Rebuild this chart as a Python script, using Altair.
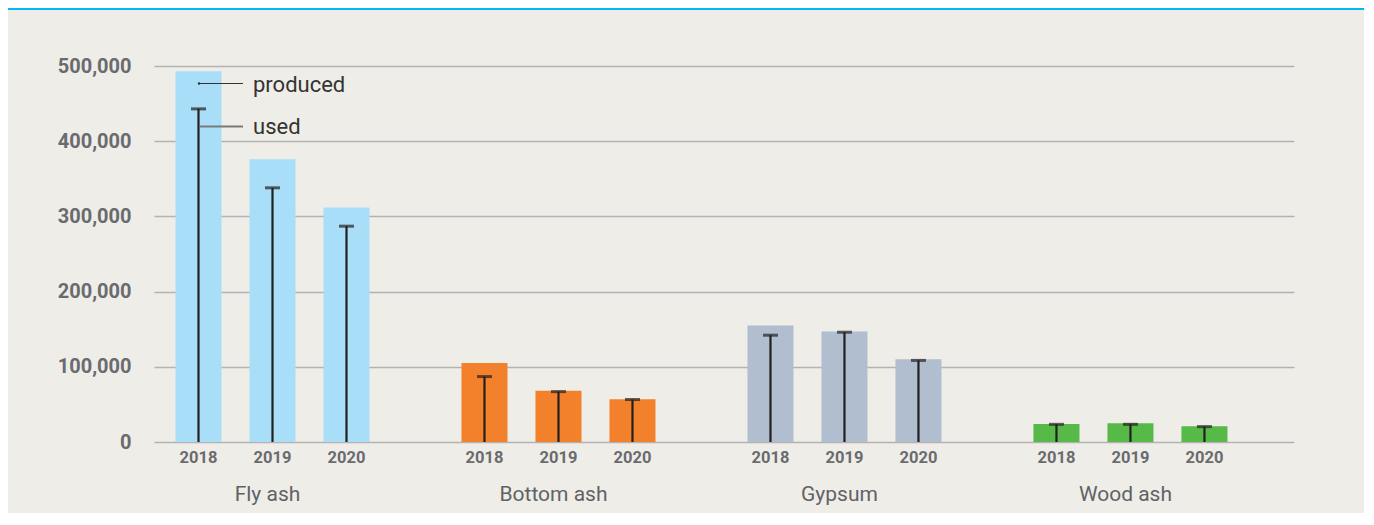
import altair as alt
import pandas as pd

groups = ["Fly ash", "Bottom ash", "Gypsum", "Wood ash"]
years = ["2018", "2019", "2020"]

produced_fly_ash = [493000, 376000, 312000]
used_fly_ash = [443000, 338000, 287000]
produced_bottom_ash = [105000, 68000, 57000]
used_bottom_ash = [87000, 67000, 56500]
produced_gypsum = [155000, 147000, 110000]
used_gypsum = [142000, 146000, 108500]
produced_wood_ash = [24000, 25000, 21000]
used_wood_ash = [23500, 23500, 20500]

colors = ["#A9DEF9", "#F3812B", "#B0BED0", "#57B947"]

y_ticks = [0, 100000, 200000, 300000, 400000, 500000]

rows = []
for g, prod, used in zip(
    groups,
    [produced_fly_ash, produced_bottom_ash, produced_gypsum, produced_wood_ash],
    [used_fly_ash, used_bottom_ash, used_gypsum, used_wood_ash],
):
    for yr, p, u in zip(years, prod, used):
        rows.append({"group": g, "year": yr, "produced": p, "used": u})
df = pd.DataFrame(rows)

FONT = "Roboto"
LABEL = "#6A6B6F"

x_enc = alt.X(
    "group:N",
    sort=groups,
    scale=alt.Scale(paddingInner=0.2238, paddingOuter=0.105, align=0.125),
    axis=alt.Axis(
        title=None, labelAngle=0, ticks=False, tickSize=0, domain=False,
        labelPadding=52, labelBaseline="middle", labelFontSize=21,
        labelFont=FONT, labelColor="#616265", labelFontWeight="normal",
        labelOffset=-5, grid=False,
    ),
)
xo_enc = alt.XOffset(
    "year:N", sort=years,
    scale=alt.Scale(paddingInner=0.378, paddingOuter=0.189),
)
y_scale = alt.Scale(domain=[0, 500000], nice=False)

base = alt.Chart(df)

bars = base.mark_bar().encode(
    x=x_enc,
    xOffset=xo_enc,
    y=alt.Y(
        "produced:Q", scale=y_scale,
        axis=alt.Axis(
            title=None, values=y_ticks, format=",d", ticks=False, tickSize=0,
            domain=False, labelPadding=23, labelFontSize=20, labelFont=FONT,
            labelColor=LABEL, labelFontWeight="bold", grid=True,
            gridColor="#B3B3B3", gridWidth=1.5,
        ),
    ),
    color=alt.Color("group:N", sort=groups,
                    scale=alt.Scale(domain=groups, range=colors), legend=None),
)

rules = base.mark_rule(color="#231F20", strokeWidth=2.2).encode(
    x=x_enc, xOffset=xo_enc, y="used:Q", y2=alt.datum(0),
)

caps = base.mark_tick(color="#231F20", size=15, thickness=3,
                      orient="horizontal").encode(
    x=x_enc, xOffset=xo_enc, y="used:Q",
)

year_labels = base.mark_text(
    font=FONT, fontSize=16.5, fontWeight="bold", color=LABEL,
    baseline="middle", dy=16,
).encode(x=x_enc, xOffset=xo_enc, y=alt.datum(0), text="year:N")

one = pd.DataFrame({"t": ["x"]})

band = alt.Chart(one).mark_rect(color="#00B9F2").encode(
    x=alt.value(-146), x2=alt.value(1212), y=alt.value(-58), y2=alt.value(-56)
)

prod_line = alt.Chart(one).mark_rule(color="#333333", strokeWidth=1).encode(
    x=alt.value(45), x2=alt.value(89), y=alt.value(17.5)
)
prod_dot = alt.Chart(one).mark_circle(color="#333333", size=6, opacity=1).encode(
    x=alt.value(45), y=alt.value(17.5)
)
used_line = alt.Chart(one).mark_rule(color="#7A7A7A", strokeWidth=2).encode(
    x=alt.value(46), x2=alt.value(89), y=alt.value(60.5)
)
prod_text = alt.Chart(pd.DataFrame({"t": ["produced"]})).mark_text(
    font=FONT, fontSize=22, color="#333333", align="left", baseline="middle"
).encode(x=alt.value(99), y=alt.value(19), text="t:N")
used_text = alt.Chart(pd.DataFrame({"t": ["used"]})).mark_text(
    font=FONT, fontSize=22, color="#333333", align="left", baseline="middle"
).encode(x=alt.value(99), y=alt.value(61), text="t:N")

chart = alt.layer(
    bars, rules, caps, year_labels, band,
    prod_line, prod_dot, used_line, prod_text, used_text,
).properties(
    width=1140, height=376,
    autosize=alt.AutoSizeParams(type="none"),
    padding={"left": 146, "top": 58, "right": 70, "bottom": 71},
    background="#EFEDE8",
).configure(font=FONT, view=alt.ViewConfig(stroke=None))

chart.save("out.html", embed_options={"renderer": "svg", "actions": False})
